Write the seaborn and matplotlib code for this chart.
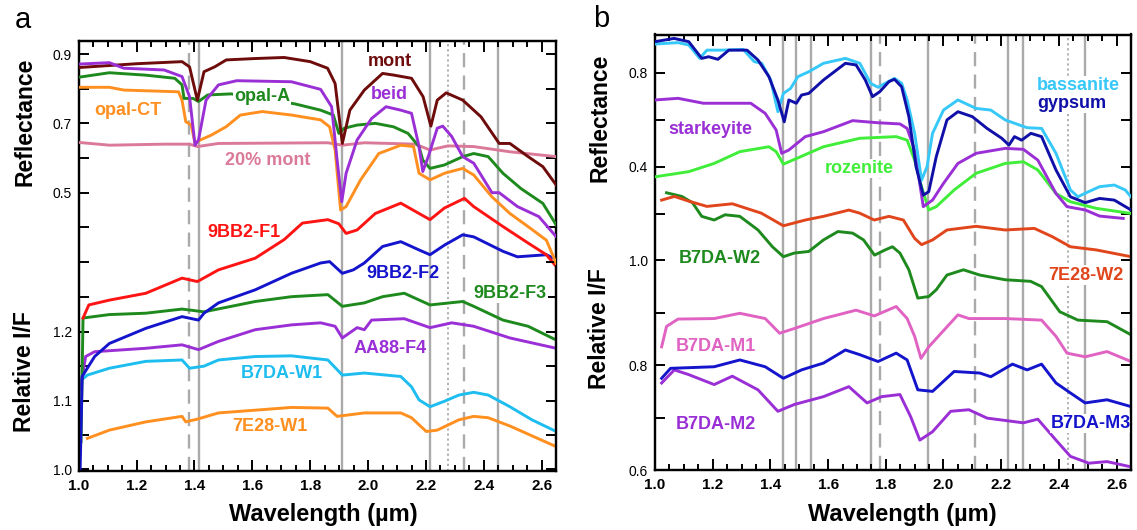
import matplotlib
matplotlib.use("Agg")
import matplotlib.pyplot as plt
import seaborn as sns
import numpy as np
import pandas as pd
from matplotlib.ticker import FixedLocator

plt.rcParams.update({
    "font.family": ["Liberation Sans", "DejaVu Sans"],
    "xtick.direction": "in", "ytick.direction": "in",
    "xtick.top": True, "xtick.bottom": True, "ytick.left": True, "ytick.right": True,
    "xtick.major.size": 8, "xtick.minor.size": 4.5, "ytick.major.size": 7.5, "ytick.minor.size": 7.5,
    "xtick.major.width": 1.4, "xtick.minor.width": 1.4, "ytick.major.width": 1.4, "ytick.minor.width": 1.4,
})

# ---------------- Panel a : laboratory reflectance ----------------
a_mont_wl = [1.0, 1.2, 1.357, 1.383, 1.41, 1.433, 1.47, 1.51, 1.61, 1.71, 1.80, 1.86, 1.886, 1.911, 1.937, 1.987,
             2.05, 2.09, 2.15, 2.19, 2.217, 2.239, 2.27, 2.327, 2.39, 2.453, 2.49, 2.553, 2.604, 2.65]
a_mont_r = [0.861, 0.872, 0.878, 0.863, 0.767, 0.849, 0.863, 0.883, 0.887, 0.89, 0.878, 0.859, 0.815, 0.642, 0.738,
            0.796, 0.844, 0.839, 0.83, 0.777, 0.692, 0.767, 0.788, 0.767, 0.719, 0.642, 0.642, 0.604, 0.575, 0.522]

a_beid_wl = [1.0, 1.106, 1.156, 1.295, 1.357, 1.383, 1.402, 1.414, 1.44, 1.483, 1.546, 1.735, 1.836, 1.874, 1.893,
             1.909, 1.924, 1.962, 2.012, 2.062, 2.113, 2.15, 2.176, 2.189, 2.208, 2.239, 2.258, 2.289, 2.327, 2.365,
             2.428, 2.453, 2.516, 2.59, 2.65]
a_beid_r = [0.871, 0.875, 0.859, 0.854, 0.835, 0.777, 0.637, 0.652, 0.767, 0.811, 0.823, 0.82, 0.798, 0.748, 0.594,
            0.474, 0.556, 0.652, 0.714, 0.748, 0.738, 0.729, 0.633, 0.561, 0.604, 0.686, 0.692, 0.662, 0.604, 0.585,
            0.5, 0.5, 0.46, 0.431, 0.373]

a_opalA_wl = [1.0, 1.106, 1.232, 1.332, 1.357, 1.364, 1.395, 1.414, 1.446, 1.527, 1.748, 1.836, 1.88, 1.899, 1.918,
              1.962, 2.025, 2.088, 2.138, 2.176, 2.189, 2.214, 2.264, 2.327, 2.365, 2.415, 2.466, 2.528, 2.604, 2.65]
a_opalA_r = [0.833, 0.846, 0.839, 0.83, 0.811, 0.772, 0.772, 0.763, 0.782, 0.785, 0.756, 0.738, 0.724, 0.671, 0.686,
             0.695, 0.7, 0.69, 0.671, 0.633, 0.594, 0.57, 0.58, 0.604, 0.613, 0.604, 0.556, 0.512, 0.469, 0.407]

a_opalCT_wl = [1.0, 1.106, 1.156, 1.345, 1.357, 1.37, 1.389, 1.402, 1.42, 1.458, 1.509, 1.559, 1.634, 1.735, 1.836,
               1.867, 1.886, 1.905, 1.924, 1.974, 2.037, 2.113, 2.157, 2.176, 2.214, 2.264, 2.327, 2.365, 2.428, 2.49,
               2.553, 2.616, 2.65]
a_opalCT_r = [0.804, 0.804, 0.796, 0.791, 0.767, 0.705, 0.695, 0.642, 0.652, 0.666, 0.69, 0.724, 0.734, 0.724, 0.71,
              0.69, 0.623, 0.45, 0.46, 0.537, 0.613, 0.637, 0.633, 0.556, 0.537, 0.556, 0.57, 0.551, 0.488, 0.44,
              0.402, 0.363, 0.296]

a_mont20_wl = [1.0, 1.106, 1.295, 1.383, 1.41, 1.483, 1.861, 1.911, 1.987, 2.163, 2.214, 2.239, 2.276, 2.365, 2.49, 2.65]
a_mont20_r = [0.645, 0.637, 0.64, 0.64, 0.633, 0.642, 0.644, 0.637, 0.644, 0.64, 0.623, 0.628, 0.635, 0.633, 0.618, 0.604]

# ---------------- Panel a : CRISM relative I/F ----------------
a_F1_wl = [1.015, 1.035, 1.106, 1.232, 1.357, 1.41, 1.483, 1.61, 1.71, 1.773, 1.861, 1.899, 1.924, 1.962, 2.025,
           2.113, 2.176, 2.214, 2.264, 2.333, 2.365, 2.466, 2.553, 2.616, 2.65]
a_F1_v = [1.22, 1.239, 1.246, 1.256, 1.278, 1.273, 1.29, 1.307, 1.334, 1.358, 1.363, 1.357, 1.343, 1.348, 1.372,
          1.387, 1.372, 1.363, 1.38, 1.394, 1.382, 1.353, 1.329, 1.312, 1.295]

a_F2_wl = [1.005, 1.012, 1.055, 1.106, 1.232, 1.357, 1.414, 1.433, 1.483, 1.61, 1.735, 1.836, 1.867, 1.911, 1.949,
           1.987, 2.05, 2.113, 2.176, 2.214, 2.264, 2.327, 2.365, 2.466, 2.516, 2.616, 2.65]
a_F2_v = [1.0, 1.135, 1.164, 1.183, 1.205, 1.222, 1.217, 1.227, 1.242, 1.261, 1.285, 1.3, 1.302, 1.285, 1.29, 1.3,
          1.324, 1.331, 1.319, 1.312, 1.326, 1.341, 1.338, 1.317, 1.309, 1.312, 1.305]

a_F3_wl = [1.008, 1.015, 1.106, 1.232, 1.357, 1.433, 1.61, 1.735, 1.861, 1.911, 1.987, 2.05, 2.125, 2.214, 2.327,
           2.365, 2.466, 2.553, 2.65]
a_F3_v = [1.04, 1.22, 1.225, 1.227, 1.233, 1.229, 1.244, 1.251, 1.254, 1.237, 1.242, 1.251, 1.256, 1.239, 1.244,
          1.237, 1.217, 1.208, 1.188]

a_F4_wl = [1.005, 1.024, 1.055, 1.232, 1.357, 1.414, 1.483, 1.61, 1.735, 1.836, 1.886, 1.911, 1.962, 1.987, 2.012,
           2.125, 2.214, 2.289, 2.365, 2.49, 2.65]
a_F4_v = [1.116, 1.164, 1.171, 1.176, 1.181, 1.174, 1.186, 1.203, 1.21, 1.213, 1.208, 1.191, 1.206, 1.203, 1.217,
          1.219, 1.206, 1.213, 1.208, 1.191, 1.176]

a_W1_wl = [1.01, 1.03, 1.106, 1.232, 1.357, 1.383, 1.433, 1.483, 1.61, 1.735, 1.861, 1.911, 1.987, 2.113, 2.15,
           2.176, 2.214, 2.264, 2.314, 2.365, 2.415, 2.49, 2.566, 2.65]
a_W1_v = [1.13, 1.137, 1.147, 1.157, 1.159, 1.147, 1.15, 1.159, 1.164, 1.165, 1.159, 1.137, 1.14, 1.135, 1.12,
          1.101, 1.091, 1.099, 1.108, 1.112, 1.108, 1.091, 1.072, 1.055]

a_E28W1_wl = [1.03, 1.106, 1.232, 1.357, 1.37, 1.41, 1.483, 1.61, 1.735, 1.861, 1.893, 1.987, 2.113, 2.15, 2.201,
              2.239, 2.314, 2.365, 2.415, 2.49, 2.65]
a_E28W1_v = [1.045, 1.057, 1.069, 1.077, 1.069, 1.073, 1.082, 1.086, 1.09, 1.089, 1.077, 1.082, 1.082, 1.075, 1.055,
             1.057, 1.072, 1.077, 1.075, 1.063, 1.033]

# ---------------- Panel b : laboratory reflectance ----------------
b_bass_wl = [1.0, 1.08, 1.117, 1.155, 1.18, 1.23, 1.306, 1.344, 1.37, 1.401, 1.426, 1.445, 1.47, 1.495, 1.533, 1.584,
             1.66, 1.71, 1.747, 1.773, 1.798, 1.83, 1.855, 1.874, 1.9, 1.924, 1.943, 1.962, 2.0, 2.05, 2.113, 2.164,
             2.214, 2.264, 2.29, 2.34, 2.39, 2.44, 2.466, 2.491, 2.541, 2.592, 2.63, 2.65]
b_bass_r = [0.922, 0.928, 0.918, 0.861, 0.896, 0.896, 0.899, 0.847, 0.84, 0.769, 0.634, 0.712, 0.733, 0.783, 0.804,
            0.84, 0.861, 0.84, 0.755, 0.738, 0.755, 0.776, 0.755, 0.684, 0.542, 0.343, 0.4, 0.542, 0.641, 0.684,
            0.648, 0.641, 0.599, 0.577, 0.566, 0.563, 0.457, 0.301, 0.272, 0.287, 0.315, 0.322, 0.301, 0.272]

b_gyp_wl = [1.0, 1.066, 1.117, 1.162, 1.186, 1.218, 1.256, 1.319, 1.357, 1.395, 1.426, 1.448, 1.464, 1.49, 1.508,
            1.533, 1.584, 1.66, 1.697, 1.729, 1.754, 1.779, 1.811, 1.83, 1.855, 1.88, 1.905, 1.93, 1.949, 1.975, 2.012,
            2.05, 2.1, 2.151, 2.202, 2.227, 2.246, 2.271, 2.303, 2.34, 2.39, 2.44, 2.491, 2.541, 2.592, 2.65]
b_gyp_r = [0.932, 0.946, 0.932, 0.861, 0.868, 0.857, 0.896, 0.896, 0.854, 0.783, 0.684, 0.591, 0.684, 0.67, 0.705,
           0.712, 0.769, 0.84, 0.833, 0.769, 0.698, 0.719, 0.762, 0.772, 0.74, 0.613, 0.4, 0.279, 0.294, 0.443, 0.599,
           0.634, 0.613, 0.563, 0.521, 0.492, 0.528, 0.513, 0.542, 0.528, 0.386, 0.272, 0.247, 0.265, 0.258, 0.216]

b_stark_wl = [1.0, 1.08, 1.168, 1.332, 1.382, 1.42, 1.439, 1.464, 1.521, 1.584, 1.685, 1.773, 1.849, 1.874, 1.9, 1.93,
              1.962, 2.0, 2.05, 2.113, 2.214, 2.277, 2.327, 2.39, 2.428, 2.491, 2.541, 2.623]
b_stark_r = [0.684, 0.691, 0.67, 0.67, 0.627, 0.556, 0.457, 0.471, 0.528, 0.549, 0.596, 0.587, 0.582, 0.563, 0.471,
             0.23, 0.258, 0.329, 0.414, 0.457, 0.478, 0.474, 0.428, 0.286, 0.23, 0.216, 0.19, 0.18]

b_roz_wl = [1.0, 1.117, 1.205, 1.294, 1.395, 1.42, 1.445, 1.483, 1.584, 1.71, 1.836, 1.874, 1.9, 1.924, 1.949, 1.975,
            2.037, 2.113, 2.214, 2.277, 2.327, 2.39, 2.44, 2.529, 2.65]
b_roz_r = [0.357, 0.379, 0.414, 0.464, 0.485, 0.464, 0.411, 0.431, 0.485, 0.521, 0.528, 0.513, 0.428, 0.315, 0.216,
           0.23, 0.301, 0.372, 0.414, 0.421, 0.386, 0.286, 0.251, 0.223, 0.201]

# ---------------- Panel b : CRISM relative I/F ----------------
b_E28W2_wl = [1.023, 1.067, 1.117, 1.18, 1.268, 1.369, 1.445, 1.521, 1.584, 1.672, 1.71, 1.76, 1.811, 1.861, 1.9,
              1.924, 1.962, 2.012, 2.113, 2.214, 2.315, 2.378, 2.44, 2.529, 2.65]
b_E28W2_v = [1.115, 1.122, 1.113, 1.103, 1.108, 1.09, 1.066, 1.077, 1.084, 1.096, 1.09, 1.077, 1.084, 1.077, 1.042,
             1.03, 1.039, 1.058, 1.065, 1.058, 1.061, 1.045, 1.026, 1.02, 1.007]

b_W2_wl = [1.04, 1.093, 1.13, 1.162, 1.205, 1.243, 1.294, 1.357, 1.407, 1.445, 1.483, 1.533, 1.584, 1.634, 1.685,
           1.723, 1.761, 1.798, 1.823, 1.849, 1.88, 1.911, 1.949, 1.975, 2.012, 2.069, 2.126, 2.214, 2.302, 2.34,
           2.403, 2.466, 2.567, 2.65]
b_W2_v = [1.129, 1.122, 1.11, 1.084, 1.077, 1.087, 1.084, 1.058, 1.026, 1.007, 1.014, 1.017, 1.039, 1.055, 1.052,
          1.039, 1.01, 1.02, 1.026, 1.014, 0.982, 0.928, 0.931, 0.944, 0.972, 0.982, 0.972, 0.963, 0.96, 0.95, 0.902,
          0.886, 0.883, 0.858]

b_M1_wl = [1.023, 1.04, 1.08, 1.205, 1.294, 1.382, 1.432, 1.483, 1.584, 1.697, 1.76, 1.836, 1.874, 1.9, 1.922, 1.949,
           1.987, 2.05, 2.088, 2.214, 2.34, 2.39, 2.428, 2.491, 2.567, 2.65]
b_M1_v = [0.835, 0.874, 0.888, 0.889, 0.899, 0.889, 0.861, 0.87, 0.889, 0.905, 0.894, 0.912, 0.889, 0.855, 0.813,
          0.835, 0.858, 0.896, 0.889, 0.889, 0.886, 0.855, 0.823, 0.816, 0.826, 0.807]

b_M3_wl = [1.023, 1.054, 1.205, 1.294, 1.382, 1.445, 1.508, 1.584, 1.66, 1.71, 1.773, 1.836, 1.874, 1.911, 1.962,
           2.037, 2.126, 2.164, 2.239, 2.29, 2.34, 2.39, 2.44, 2.491, 2.567, 2.65]
b_M3_v = [0.775, 0.794, 0.797, 0.81, 0.797, 0.775, 0.791, 0.804, 0.829, 0.82, 0.807, 0.823, 0.81, 0.753, 0.75, 0.788,
          0.785, 0.778, 0.802, 0.791, 0.802, 0.766, 0.747, 0.728, 0.734, 0.721]

b_M2_wl = [1.023, 1.067, 1.117, 1.205, 1.268, 1.357, 1.426, 1.483, 1.584, 1.672, 1.735, 1.786, 1.849, 1.886, 1.918,
           1.962, 2.025, 2.088, 2.151, 2.277, 2.327, 2.39, 2.44, 2.504, 2.567, 2.65]
b_M2_v = [0.766, 0.791, 0.782, 0.763, 0.779, 0.753, 0.712, 0.725, 0.74, 0.759, 0.728, 0.74, 0.744, 0.702, 0.657,
          0.673, 0.712, 0.715, 0.699, 0.69, 0.697, 0.657, 0.626, 0.613, 0.616, 0.606]

# band positions (µm)
a_solid = [1.415, 1.91, 2.215, 2.45]
a_dashed = [1.38, 2.33]
a_dotted = [2.275]
b_solid = [1.445, 1.49, 1.54, 1.75, 1.945, 2.225, 2.275, 2.49]
b_dashed = [1.78, 2.11]
b_dotted = [2.43]

x_ticks = [1.0, 1.2, 1.4, 1.6, 1.8, 2.0, 2.2, 2.4, 2.6]
x_ticklabels = ["1.0", "1.2", "1.4", "1.6", "1.8", "2.0", "2.2", "2.4", "2.6"]
x_minor = [1.05, 1.1, 1.15, 1.25, 1.3, 1.35, 1.45, 1.5, 1.55, 1.65, 1.7, 1.75, 1.85, 1.9, 1.95,
           2.05, 2.1, 2.15, 2.25, 2.3, 2.35, 2.45, 2.5, 2.55]

# colours
C_MONT = "#6E0B0B"
C_PURPLE = "#9A2FD6"
C_GREEN = "#1E8A1E"
C_ORANGE = "#FF8F1F"
C_PINK = "#DB7A98"
C_RED = "#FF1414"
C_BLUE = "#1414CC"
C_LBLUE = "#1DBDF0"
C_BASS = "#36C8F8"
C_GYP = "#1010A8"
C_ROZ = "#40EE3A"
C_E28W2 = "#E0451C"
C_M1 = "#E062C2"
C_GRAY = "#AAAAAA"

W, H = 1137, 530
fig = plt.figure(figsize=(W / 100, H / 100), dpi=100)


def make_panel(rect, ylim_if, ylim_r):
    ax_if = fig.add_axes(rect)
    ax_r = fig.add_axes(rect, sharex=ax_if)
    ax_r.patch.set_visible(False)
    ax_if.set_xlim(1.0, 2.65)
    ax_if.set_ylim(*ylim_if)
    ax_r.set_ylim(*ylim_r)
    return ax_if, ax_r


def curve(ax, wl, vals, color):
    sns.lineplot(x=wl, y=vals, ax=ax, color=color, linewidth=2.1, legend=False, zorder=3)


def label(ax, x, y, s, color, ha="center", bbox=False):
    kw = dict(color=color, fontsize=13, fontweight="bold", ha=ha, va="center", zorder=5)
    if bbox:
        kw["bbox"] = dict(facecolor="white", edgecolor="none", pad=0.8)
    ax.text(x, y, s, **kw)


def finish_panel(ax_if, ax_r, if_major, if_minor, r_major, r_minor, solid, dashed, dotted):
    for xv in solid:
        ax_if.axvline(xv, color=C_GRAY, lw=1.7, zorder=0.5)
    for xv in dashed:
        ax_if.axvline(xv, color=C_GRAY, lw=1.7, ls=(0, (6, 3.5)), zorder=0.5)
    for xv in dotted:
        ax_if.axvline(xv, color=C_GRAY, lw=1.3, ls=(0, (1.2, 1.6)), zorder=0.5)
    ax_if.set_xlim(1.0, 2.65)
    for ax in (ax_if, ax_r):
        ax.set_xlabel("")
        ax.set_ylabel("")
        for s in ax.spines.values():
            s.set_linewidth(1.6)
            s.set_color("black")
    ax_if.xaxis.set_major_locator(FixedLocator(x_ticks))
    ax_if.xaxis.set_minor_locator(FixedLocator(x_minor))
    ax_if.set_xticklabels(x_ticklabels, fontweight="bold", fontsize=11)
    ax_r.tick_params(axis="x", which="both", bottom=False, top=False, labelbottom=False, labeltop=False)
    ax_if.yaxis.set_major_locator(FixedLocator(if_major))
    ax_if.yaxis.set_minor_locator(FixedLocator(if_minor))
    ax_if.set_yticklabels([f"{v:.1f}" for v in if_major], fontsize=10)
    ax_r.yaxis.set_major_locator(FixedLocator(r_major))
    ax_r.yaxis.set_minor_locator(FixedLocator(r_minor))
    ax_r.set_yticklabels([f"{v:.1f}" for v in r_major], fontsize=10)
    ax_if.tick_params(axis="x", which="major", direction="in", bottom=True, top=True, length=8, width=1.4,
                      color="black", pad=6)
    ax_if.tick_params(axis="x", which="minor", direction="in", bottom=True, top=True, length=4.5, width=1.4,
                      color="black")
    for ax in (ax_if, ax_r):
        ax.tick_params(axis="y", which="both", direction="in", left=True, right=True, length=7.5, width=1.4,
                       color="black", pad=5)


# ---------- panel a ----------
rect_a = [78.7 / W, (H - 470.7) / H, (556.2 - 78.7) / W, (470.7 - 40.5) / H]
a_if, a_r = make_panel(rect_a, (0.998, 1.6235), (-0.302, 0.939))

curve(a_r, a_mont20_wl, a_mont20_r, C_PINK)
curve(a_r, a_opalCT_wl, a_opalCT_r, C_ORANGE)
curve(a_r, a_opalA_wl, a_opalA_r, C_GREEN)
curve(a_r, a_mont_wl, a_mont_r, C_MONT)
curve(a_r, a_beid_wl, a_beid_r, C_PURPLE)

curve(a_if, a_E28W1_wl, a_E28W1_v, C_ORANGE)
curve(a_if, a_W1_wl, a_W1_v, C_LBLUE)
curve(a_if, a_F4_wl, a_F4_v, C_PURPLE)
curve(a_if, a_F3_wl, a_F3_v, C_GREEN)
curve(a_if, a_F2_wl, a_F2_v, C_BLUE)
curve(a_if, a_F1_wl, a_F1_v, C_RED)

label(a_r, 2.075, 0.878, "mont", C_MONT)
label(a_r, 2.075, 0.782, "beid", C_PURPLE)
label(a_r, 1.633, 0.777, "opal-A", C_GREEN, bbox=True)
label(a_r, 1.169, 0.738, "opal-CT", C_ORANGE)
label(a_r, 1.653, 0.592, "20% mont", C_PINK)
label(a_if, 1.571, 1.344, "9BB2-F1", C_RED)
label(a_if, 2.119, 1.285, "9BB2-F2", C_BLUE)
label(a_if, 2.49, 1.256, "9BB2-F3", C_GREEN, bbox=True)
label(a_if, 2.075, 1.176, "AA88-F4", C_PURPLE)
label(a_if, 1.702, 1.140, "B7DA-W1", C_LBLUE)
label(a_if, 1.660, 1.062, "7E28-W1", C_ORANGE)

finish_panel(a_if, a_r, [1.0, 1.1, 1.2], [1.05, 1.15, 1.25], [0.5, 0.7, 0.9], [0.3, 0.4, 0.6, 0.8],
             a_solid, a_dashed, a_dotted)

# ---------- panel b ----------
rect_b = [655 / W, (H - 470) / H, 476 / W, (470 - 34.5) / H]
b_if, b_r = make_panel(rect_b, (0.6, 1.431), (-0.8906, 0.9626))

curve(b_r, b_roz_wl, b_roz_r, C_ROZ)
curve(b_r, b_stark_wl, b_stark_r, C_PURPLE)
curve(b_r, b_bass_wl, b_bass_r, C_BASS)
curve(b_r, b_gyp_wl, b_gyp_r, C_GYP)

curve(b_if, b_M2_wl, b_M2_v, C_PURPLE)
curve(b_if, b_M3_wl, b_M3_v, C_BLUE)
curve(b_if, b_M1_wl, b_M1_v, C_M1)
curve(b_if, b_W2_wl, b_W2_v, C_GREEN)
curve(b_if, b_E28W2_wl, b_E28W2_v, C_E28W2)

label(b_r, 2.324, 0.747, "bassanite", C_BASS, ha="left", bbox=True)
label(b_r, 2.324, 0.670, "gypsum", C_GYP, ha="left", bbox=True)
label(b_r, 1.192, 0.559, "starkeyite", C_PURPLE)
label(b_r, 1.709, 0.393, "rozenite", C_ROZ, bbox=True)
label(b_if, 2.492, 0.972, "7E28-W2", C_E28W2, bbox=True)
label(b_if, 1.223, 1.004, "B7DA-W2", C_GREEN)
label(b_if, 1.210, 0.835, "B7DA-M1", C_M1)
label(b_if, 2.511, 0.689, "B7DA-M3", C_BLUE, bbox=True)
label(b_if, 1.210, 0.686, "B7DA-M2", C_PURPLE)

finish_panel(b_if, b_r, [0.6, 0.8, 1.0], [0.7, 0.9], [0.4, 0.8], [0.2, 0.6],
             b_solid, b_dashed, b_dotted)

# axis titles and panel letters
lab_kw = dict(fontsize=16.5, fontweight="bold", ha="center", va="center", rotation=90)
fig.text(25 / W, 1 - 122 / H, "Reflectance", **lab_kw)
fig.text(25 / W, 1 - 372 / H, "Relative I/F", **lab_kw)
fig.text(600 / W, 1 - 118 / H, "Reflectance", **lab_kw)
fig.text(600 / W, 1 - 329 / H, "Relative I/F", **lab_kw)
fig.text(323 / W, 1 - 515 / H, "Wavelength (µm)", fontsize=17, fontweight="bold", ha="center", va="center")
fig.text(902 / W, 1 - 515 / H, "Wavelength (µm)", fontsize=17, fontweight="bold", ha="center", va="center")
fig.text(22.6 / W, 1 - 28 / H, "a", fontsize=21, ha="center", va="baseline")
fig.text(601 / W, 1 - 26.7 / H, "b", fontsize=21, ha="center", va="baseline")

fig.savefig("out.png", dpi=100)
